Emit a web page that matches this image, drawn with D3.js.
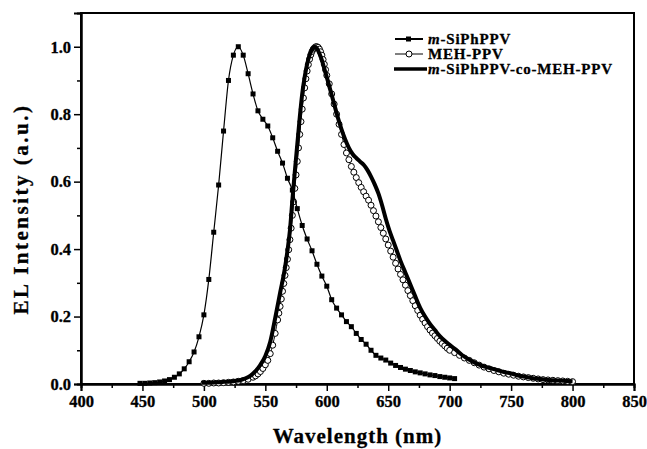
<!DOCTYPE html>
<html>
<head>
<meta charset="utf-8">
<script src="https://d3js.org/d3.v7.min.js"></script>
<style>
  body { margin: 0; background: #fff; }
  text { font-family: "Liberation Serif", "Times New Roman", serif; font-weight: bold; fill: #000; stroke: #000; stroke-width: 0.3px; }
</style>
</head>
<body>
<div id="chart-area"></div>
<script>
// m-SiPhPPV (filled squares)
var siphWl = [448,452,456,460,464,468,472,476,480,484,488,492,496,500,504,508,512,516,520,524,
    528,532,536,540,544,548,552,556,560,564,568,572,576,580,584,588,592,596,600,604,
    608,612,616,620,624,628,632,636,640,644,648,652,656,660,664,668,672,676,680,684,
    688,692,696,700,704];
var siphVal = [0.002,0.002,0.003,0.004,0.006,0.009,0.013,0.020,0.030,0.045,0.066,0.095,0.140,0.205,0.310,0.450,0.590,0.750,0.900,0.975,
    1.000,0.975,0.920,0.860,0.810,0.785,0.765,0.730,0.690,0.655,0.610,0.575,0.520,0.470,0.430,0.395,0.355,0.320,0.290,0.250,
    0.225,0.205,0.185,0.170,0.150,0.132,0.118,0.100,0.085,0.077,0.071,0.062,0.055,0.049,0.044,0.040,0.036,0.033,0.030,0.027,
    0.025,0.022,0.020,0.018,0.016];

// MEH-PPV (open circles)
var mehWl = [500,504,508,512,516,520,524,528,532,536,540,542,544,546,548,550,552,554,556,558,
    560,561,562,563,564,565,566,567,568,569,570,571,572,573,574,575,576,577,578,579,
    580,581,582,583,584,585,586,587,588,589,590,591,592,593,594,595,596,597,598,599,
    600,602,604,606,608,610,612,614,616,618,620,622,624,626,628,630,632,634,636,638,
    640,642,644,646,648,650,652,654,656,658,660,662,664,666,668,670,672,674,676,678,
    680,682,684,686,688,690,692,694,696,698,700,704,708,712,716,720,724,728,732,736,
    740,744,748,752,756,760,764,768,772,776,780,784,788,792,796,800];
var mehVal = [0.002,0.002,0.003,0.003,0.004,0.005,0.006,0.008,0.010,0.014,0.020,0.024,0.030,0.037,0.046,0.057,0.070,0.090,0.115,0.150,
    0.190,0.210,0.230,0.252,0.275,0.298,0.322,0.345,0.370,0.398,0.428,0.462,0.500,0.540,0.580,0.620,0.660,0.700,0.740,0.778,
    0.815,0.848,0.878,0.905,0.928,0.947,0.963,0.976,0.986,0.993,0.997,1.000,1.000,0.998,0.993,0.985,0.975,0.962,0.948,0.932,
    0.915,0.890,0.860,0.830,0.800,0.770,0.740,0.710,0.685,0.665,0.645,0.628,0.612,0.597,0.583,0.570,0.557,0.545,0.530,0.514,
    0.498,0.481,0.464,0.447,0.430,0.412,0.394,0.376,0.358,0.341,0.325,0.309,0.293,0.277,0.262,0.247,0.232,0.218,0.204,0.192,
    0.181,0.170,0.160,0.151,0.143,0.135,0.127,0.120,0.113,0.106,0.100,0.093,0.085,0.077,0.070,0.063,0.056,0.050,0.045,0.040,
    0.036,0.032,0.029,0.026,0.023,0.021,0.019,0.017,0.015,0.013,0.012,0.011,0.010,0.009,0.008,0.007];

// m-SiPhPPV-co-MEH-PPV (thick line)
var coWl = [498,505,510,515,520,525,530,534,538,542,546,550,554,558,562,566,568,570,572,574,
    576,578,580,582,584,586,588,590,592,594,596,598,600,603,606,609,612,615,618,621,
    624,627,630,633,636,639,642,645,648,651,654,657,660,664,668,672,676,680,684,688,
    692,696,700,705,710,715,720,725,730,735,740,745,750,755,760,765,770,775,780,785,
    790,795,800];
var coVal = [0.004,0.004,0.005,0.006,0.007,0.009,0.012,0.017,0.025,0.038,0.057,0.083,0.125,0.195,0.270,0.345,0.395,0.455,0.545,0.630,
    0.710,0.790,0.860,0.910,0.948,0.975,0.992,1.000,0.995,0.980,0.960,0.935,0.910,0.870,0.830,0.790,0.755,0.725,0.700,0.682,
    0.670,0.660,0.650,0.635,0.615,0.592,0.565,0.530,0.490,0.455,0.425,0.395,0.365,0.330,0.295,0.260,0.226,0.200,0.178,0.160,
    0.142,0.128,0.116,0.102,0.086,0.074,0.064,0.056,0.050,0.045,0.040,0.035,0.031,0.026,0.022,0.019,0.016,0.014,0.012,0.011,
    0.010,0.009,0.008];

var xTicks = [400,450,500,550,600,650,700,750,800,850];
var yTicks = [0.0,0.2,0.4,0.6,0.8,1.0];
var legendNames = ["m-SiPhPPV", "MEH-PPV", "m-SiPhPPV-co-MEH-PPV"];

var margin = { left:81, right:13, top:13, bottom:65 };
var width = 647 - margin.left - margin.right,
    height = 449 - margin.top - margin.bottom;

var svg = d3.select("#chart-area")
    .append("svg")
        .attr("width", 647)
        .attr("height", 449);
var g = svg.append("g")
        .attr("transform", "translate(" + margin.left + ", " + margin.top + ")");

var x = d3.scaleLinear().domain([400, 850]).range([0, width]);
var y = d3.scaleLinear().domain([0, 1.1]).range([height, 0]);

// frame
g.append("rect")
    .attr("width", width)
    .attr("height", height)
    .attr("fill", "none")
    .attr("stroke", "#000")
    .attr("stroke-width", 2);

// minor ticks first, then major axes on top
var xMinor = d3.axisBottom(x).tickValues(d3.range(425, 850, 50)).tickSize(4).tickFormat("");
g.append("g").attr("class", "minor").attr("transform", "translate(0," + height + ")").call(xMinor);
var yMinor = d3.axisLeft(y).tickValues([0.1,0.3,0.5,0.7,0.9]).tickSize(4).tickFormat("");
g.append("g").attr("class", "minor").call(yMinor);

var xAxisGroup = g.append("g")
    .attr("class", "x axis")
    .attr("transform", "translate(0," + height + ")")
    .call(d3.axisBottom(x).tickValues(xTicks).tickSize(7).tickPadding(4));
var yAxisGroup = g.append("g")
    .attr("class", "y axis")
    .call(d3.axisLeft(y).tickValues(yTicks).tickSize(7).tickPadding(3)
        .tickFormat(d3.format(".1f")));

g.selectAll(".axis text").style("font-size", "16.5px").style("font-family", "'Liberation Serif', serif").style("font-weight", "bold");
g.selectAll(".axis path, .minor path").attr("stroke-width", 2);
g.selectAll(".axis line, .minor line").attr("stroke-width", 1.5);

// X Label
svg.append("text")
    .attr("x", margin.left + width / 2)
    .attr("y", 443)
    .attr("font-size", "21px")
    .attr("letter-spacing", "1px")
    .attr("text-anchor", "middle")
    .text("Wavelength (nm)");

// Y Label
svg.append("text")
    .attr("x", -209)
    .attr("y", 28)
    .attr("font-size", "21px")
    .attr("letter-spacing", "2.5px")
    .attr("text-anchor", "middle")
    .attr("transform", "rotate(-90)")
    .text("EL Intensity (a.u.)");

var line = d3.line()
    .x(function(d){ return x(d[0]); })
    .y(function(d){ return y(d[1]); })
    .curve(d3.curveMonotoneX);

var siph = siphWl.map(function(w, i){ return [w, siphVal[i]]; });
var meh = mehWl.map(function(w, i){ return [w, mehVal[i]]; });
var co = coWl.map(function(w, i){ return [w, coVal[i]]; });

// MEH-PPV thin line + circles
g.append("path")
    .attr("d", line(meh))
    .attr("fill", "none")
    .attr("stroke", "#000")
    .attr("stroke-width", 1);
g.selectAll("circle.meh")
    .data(meh)
    .enter()
    .append("circle")
        .attr("class", "meh")
        .attr("cx", function(d){ return x(d[0]); })
        .attr("cy", function(d){ return y(d[1]); })
        .attr("r", 3)
        .attr("fill", "#fff")
        .attr("stroke", "#000")
        .attr("stroke-width", 1);

// copolymer thick line
g.append("path")
    .attr("d", line(co))
    .attr("fill", "none")
    .attr("stroke", "#000")
    .attr("stroke-width", 4);

// m-SiPhPPV line + squares
g.append("path")
    .attr("d", line(siph))
    .attr("fill", "none")
    .attr("stroke", "#000")
    .attr("stroke-width", 1.2);
g.selectAll("rect.siph")
    .data(siph)
    .enter()
    .append("rect")
        .attr("class", "siph")
        .attr("x", function(d){ return x(d[0]) - 2.5; })
        .attr("y", function(d){ return y(d[1]) - 2.5; })
        .attr("width", 5)
        .attr("height", 5)
        .attr("fill", "#000");

// Legend
var legend = svg.append("g").attr("transform", "translate(395, 39)");
var rowH = 15;

legend.append("line").attr("x1", 0).attr("x2", 28).attr("y1", 0).attr("y2", 0)
    .attr("stroke", "#000").attr("stroke-width", 2);
legend.append("rect").attr("x", 11).attr("y", -2.5).attr("width", 5).attr("height", 5).attr("fill", "#000");

legend.append("line").attr("x1", 0).attr("x2", 28).attr("y1", rowH).attr("y2", rowH)
    .attr("stroke", "#000").attr("stroke-width", 1);
legend.append("circle").attr("cx", 14).attr("cy", rowH).attr("r", 3)
    .attr("fill", "#fff").attr("stroke", "#000");

legend.append("line").attr("x1", -1).attr("x2", 32).attr("y1", rowH * 2).attr("y2", rowH * 2)
    .attr("stroke", "#000").attr("stroke-width", 3.5);

legendNames.forEach(function(name, i) {
    var t = legend.append("text")
        .attr("x", 33)
        .attr("y", i * rowH + 5)
        .attr("font-size", "15px")
        .attr("letter-spacing", "0.8px");
    if (name.indexOf("m-") == 0) {
        t.append("tspan").attr("font-style", "italic").text("m");
        t.append("tspan").text(name.slice(1));
    } else {
        t.text(name);
    }
});
</script>
</body>
</html>
